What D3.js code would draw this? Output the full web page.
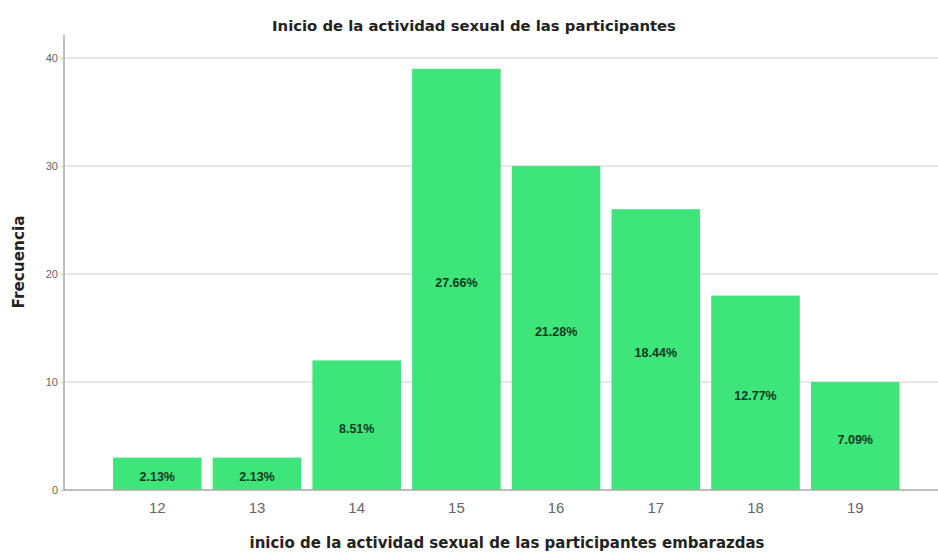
<!DOCTYPE html>
<html>
<head>
<meta charset="utf-8">
<script src="https://cdn.jsdelivr.net/npm/d3@7"></script>
<style>
  html, body { margin: 0; padding: 0; background: #fff; }
  svg { display: block; }
</style>
</head>
<body>
<svg id="chart" width="938" height="554"></svg>
<script>
// Edad de inicio de la actividad sexual (frecuencias)
const edades = ["12", "13", "14", "15", "16", "17", "18", "19"];
const frecuencias = [3, 3, 12, 39, 30, 26, 18, 10];
const porcentajes = ["2.13%", "2.13%", "8.51%", "27.66%", "21.28%", "18.44%", "12.77%", "7.09%"];
const yTicks = [0, 10, 20, 30, 40];

const titulo = "Inicio de la actividad sexual de las participantes";
const tituloX = "inicio de la actividad sexual de las participantes embarazdas";
const tituloY = "Frecuencia";

const svg = d3.select("#chart");
const fontPlain = "Arial, 'Liberation Sans', sans-serif";
const fontBold = "'DejaVu Sans', Verdana, sans-serif";

const x = d3.scaleBand()
  .domain(edades)
  .range([113, 899.5])
  .paddingInner(0.112)
  .paddingOuter(0);

const y = d3.scaleLinear()
  .domain([0, 40])
  .range([490, 58]);

const plotLeft = 64, plotRight = 938, plotTop = 35;

// Scale a text element's font size so it spans the given width
function fitWidth(sel, width) {
  const node = sel.node();
  const fs = parseFloat(sel.attr("font-size"));
  const w = node.getComputedTextLength();
  if (w > 0) sel.attr("font-size", (fs * width / w).toFixed(2));
  return sel;
}

// Gridlines
svg.append("g")
  .selectAll("line")
  .data(yTicks.filter(d => d > 0))
  .join("line")
  .attr("x1", plotLeft).attr("x2", plotRight)
  .attr("y1", d => y(d)).attr("y2", d => y(d))
  .attr("stroke", "#cfcfcf")
  .attr("stroke-width", 1.2);

// Bars
svg.append("g")
  .selectAll("rect")
  .data(frecuencias)
  .join("rect")
  .attr("x", (d, i) => x(edades[i]))
  .attr("width", x.bandwidth())
  .attr("y", d => y(d))
  .attr("height", d => y(0) - y(d))
  .attr("fill", "#3ee57b");

// Percentage labels inside bars
svg.append("g")
  .selectAll("text")
  .data(frecuencias)
  .join("text")
  .attr("x", (d, i) => x(edades[i]) + x.bandwidth() / 2)
  .attr("y", d => (y(d) + y(0)) / 2 + 7.5)
  .attr("text-anchor", "middle")
  .attr("font-family", fontPlain)
  .attr("font-size", 12.5)
  .attr("font-weight", "bold")
  .attr("fill", "#0f3a1c")
  .text((d, i) => porcentajes[i]);

// Axis lines
svg.append("line")
  .attr("x1", plotLeft).attr("x2", plotLeft)
  .attr("y1", plotTop).attr("y2", y(0))
  .attr("stroke", "#a8a8a8").attr("stroke-width", 1.5);
svg.append("line")
  .attr("x1", plotLeft).attr("x2", plotRight)
  .attr("y1", y(0)).attr("y2", y(0))
  .attr("stroke", "#a8a8a8").attr("stroke-width", 1.5);

// Y axis
const yAxis = svg.append("g")
  .attr("transform", `translate(${plotLeft},0)`)
  .call(d3.axisLeft(y).tickValues(yTicks).tickSize(3).tickPadding(3));
yAxis.select(".domain").remove();
yAxis.selectAll("line").attr("stroke", "#c4c4c4");
yAxis.selectAll("text")
  .attr("font-family", fontPlain)
  .attr("font-size", 11)
  .attr("fill", "#666");

// X axis
const xAxis = svg.append("g")
  .attr("transform", `translate(0,${y(0)})`)
  .call(d3.axisBottom(x).tickSize(0).tickPadding(12));
xAxis.select(".domain").remove();
xAxis.selectAll("text")
  .attr("font-family", fontPlain)
  .attr("font-size", 15)
  .attr("fill", "#666");

// Titles
const t1 = svg.append("text")
  .attr("x", 474).attr("y", 31)
  .attr("text-anchor", "middle")
  .attr("font-family", fontBold)
  .attr("font-size", 13)
  .attr("font-weight", "bold")
  .attr("fill", "#222")
  .text(titulo);
fitWidth(t1, 404);

const t2 = svg.append("text")
  .attr("x", 507).attr("y", 548)
  .attr("text-anchor", "middle")
  .attr("font-family", fontBold)
  .attr("font-size", 14)
  .attr("font-weight", "bold")
  .attr("fill", "#222")
  .text(tituloX);
fitWidth(t2, 515);

const t3 = svg.append("text")
  .attr("transform", "translate(24,262) rotate(-90)")
  .attr("text-anchor", "middle")
  .attr("font-family", fontBold)
  .attr("font-size", 14)
  .attr("font-weight", "bold")
  .attr("fill", "#222")
  .text(tituloY);
fitWidth(t3, 93);
</script>
</body>
</html>
